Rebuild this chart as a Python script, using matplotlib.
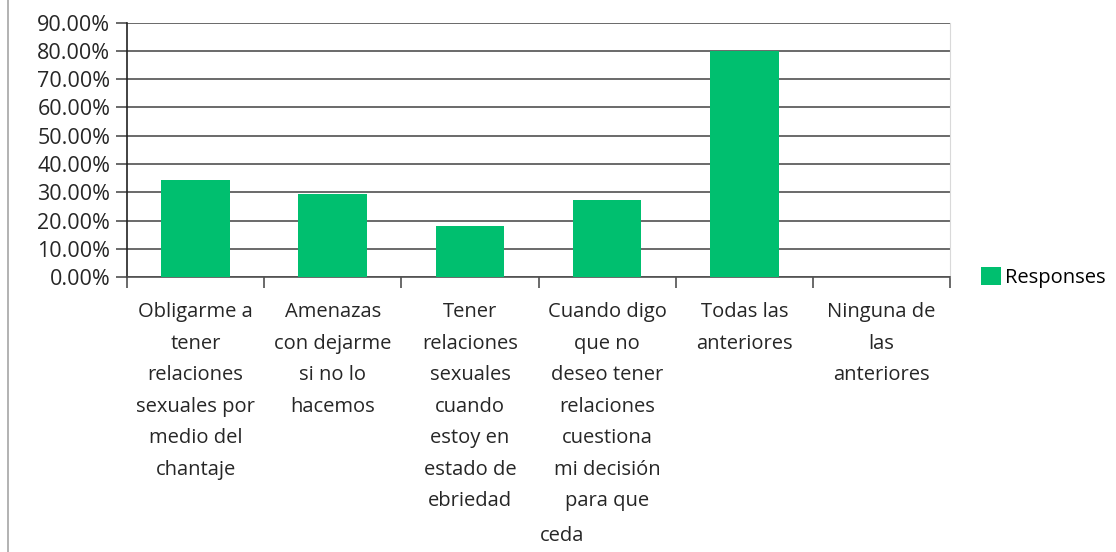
import numpy as np
import matplotlib.pyplot as plt
from matplotlib.lines import Line2D
from matplotlib.ticker import FuncFormatter, FixedLocator

plt.rcParams['font.family'] = ['Open Sans', 'DejaVu Sans']

# datos
categorias = ["Obligarme a\ntener\nrelaciones\nsexuales por\nmedio del\nchantaje",
              "Amenazas\ncon dejarme\nsi no lo\nhacemos",
              "Tener\nrelaciones\nsexuales\ncuando\nestoy en\nestado de\nebriedad",
              "Cuando digo\nque no\ndeseo tener\nrelaciones\ncuestiona\nmi decisión\npara que",
              "Todas las\nanteriores",
              "Ninguna de\nlas\nanteriores"]
respuestas = [0.343, 0.295, 0.180, 0.272, 0.801, 0.0]
serie = "Responses"

fig = plt.figure(figsize=(11.16, 5.52), dpi=100)
ax = fig.add_axes([0.1138, 0.498, 0.8513 - 0.1138, 0.959 - 0.498])

x = np.arange(len(categorias))
ax.bar(x, respuestas, width=0.5, color='#00bf6f', label=serie, zorder=3)

ax.set_xlim(-0.5, len(categorias) - 0.5)
ax.set_ylim(0, 0.9)
ax.set_yticks(np.arange(0, 0.91, 0.1))
ax.yaxis.set_major_formatter(FuncFormatter(lambda v, p: "%.2f%%" % (v * 100)))
ax.grid(axis='y', color='#505050', lw=1.2, zorder=1)

ax.set_xticks(x)
ax.set_xticklabels(categorias, linespacing=1.77)
ax.xaxis.set_minor_locator(FixedLocator(np.arange(-0.5, len(categorias), 1)))
ax.tick_params(axis='x', which='major', length=0, pad=18, labelsize=14.5, colors='#262626')
ax.tick_params(axis='x', which='minor', length=8, width=1.2, color='#505050', direction='out')
ax.tick_params(axis='y', length=8, width=1.2, color='#505050', labelsize=15.5, pad=4)
ax.tick_params(axis='y', labelcolor='#262626')
for lab in ax.get_xticklabels():
    lab.set_verticalalignment('top')

ax.spines['top'].set_visible(False)
ax.spines['right'].set_color('#d9d9d9')
ax.spines['left'].set_color('#222222')
ax.spines['left'].set_linewidth(1.2)
ax.spines['bottom'].set_color('#505050')
ax.spines['bottom'].set_linewidth(1.2)

# ultima linea de la cuarta etiqueta sale alineada a la izquierda
ax.text(2.51, -0.98, "ceda", transform=ax.get_xaxis_transform(), fontsize=14.5,
        color='#262626', ha='left', va='top')

ax.legend(loc='center left', bbox_to_anchor=(0.872, 0.498), bbox_transform=fig.transFigure,
          frameon=False, fontsize=14.5, handlelength=1.0, handleheight=1.0, handletextpad=0.2,
          borderaxespad=0)

fig.add_artist(Line2D([8 / 1116, 8 / 1116], [0, 1], color='#a6a6a6', lw=1.2,
                      transform=fig.transFigure))

fig.savefig("out.png", dpi=100)
